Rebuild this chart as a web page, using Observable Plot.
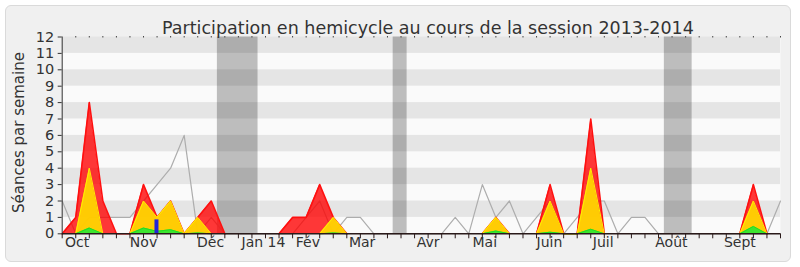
<!DOCTYPE html>
<html>
<head>
<meta charset="utf-8">
<script src="https://cdn.jsdelivr.net/npm/d3@7"></script>
<script src="https://cdn.jsdelivr.net/npm/@observablehq/plot@0.6"></script>
<style>
  body { margin: 0; background: #ffffff; }
  #wrap { position: relative; width: 800px; height: 267px; }
  #panel { position: absolute; left: 5px; top: 5px; width: 784px; height: 255px;
           border: 1px solid #dadada; border-radius: 6px; background: #f0f0f0; }
  #chart { position: absolute; left: 0; top: 0; }
</style>
</head>
<body>
<div id="wrap"><div id="panel"></div><div id="chart"></div></div>
<script>
// Weekly attendance in the chamber, session 2013-2014 (week 0 = last week of September).
const title = "Participation en hemicycle au cours de la session 2013-2014";
const yTitle = "Séances par semaine";

const weeks = d3.range(54);

// Sittings attended per week
const presence = [0, 1, 8, 2, 0, 0, 3, 1, 2, 0, 1, 2, 0, 0, 0, 0, 0, 1, 1, 3,
                  1, 0, 0, 0, 0, 0, 0, 0, 0, 0, 0, 0, 1, 0, 0, 0, 3, 0, 0, 7,
                  0, 0, 0, 0, 0, 0, 0, 0, 0, 0, 0, 3, 0, 0];
// Sittings with an intervention
const participation = [0, 0, 4, 0, 0, 0, 2, 1, 2, 0, 1, 0, 0, 0, 0, 0, 0, 0, 0, 0,
                       1, 0, 0, 0, 0, 0, 0, 0, 0, 0, 0, 0, 1, 0, 0, 0, 2, 0, 0, 4,
                       0, 0, 0, 0, 0, 0, 0, 0, 0, 0, 0, 2, 0, 0];
// Long interventions
const interventions = [0, 0, 0.35, 0, 0, 0, 0.35, 0.15, 0.25, 0, 0.05, 0, 0, 0, 0, 0, 0, 0, 0, 0,
                       0.05, 0, 0, 0, 0, 0, 0, 0, 0, 0, 0, 0, 0.17, 0, 0, 0, 0.1, 0, 0, 0.28,
                       0, 0, 0, 0, 0, 0, 0, 0, 0, 0, 0, 0.45, 0, 0];
// Median attendance of all members
const mediane = [2, 0, 1, 1, 1, 1, 2, 3, 4, 6, 0, 1, 0, 0, 0, 0, 0, 0, 1, 2,
                 0, 1, 1, 0, 0, 0, 0, 0, 0, 1, 0, 3, 1, 2, 0, 1, 2, 0, 1, 2,
                 2, 0, 1, 1, 0, 0, 0, 0, 0, 0, 0, 0, 0, 2];
// Oral questions
const questionWeeks = [7];
const questionValues = [0.85];

// Parliamentary recesses (in weeks)
const recessStart = [11.45, 24.42, 44.43];
const recessEnd = [14.45, 25.45, 46.48];

const monthLabels = ["Oct", "Nov", "Déc", "Jan 14", "Fév", "Mar", "Avr", "Mai", "Juin", "Juil", "Août", "Sept"];
const monthPos = [1.1, 6, 10.95, 14.85, 18.13, 22.13, 27, 31.18, 35.95, 39.92, 44.95, 50];

const yTicks = d3.range(0, 13);
const stripeStarts = d3.range(1, 12, 2);

const font = "DejaVu Sans";
const ink = "#333333";

// Outline of a series, left open where the series rests on the baseline
const outline = (values) => (i) =>
  (values[i] || values[i - 1] || values[i + 1]) ? values[i] : NaN;

const series = [
  { values: presence, fill: "#ff0000", opacity: 0.78, stroke: "#ff1010", width: 1.6 },
  { values: participation, fill: "#ffd700", opacity: 0.93, stroke: "#ffee00", width: 1 },
  { values: interventions, fill: "#33e633", opacity: 0.95, stroke: "#22dd22", width: 1 }
];

const seriesMarks = series.flatMap(s => [
  Plot.areaY(weeks, { x: i => i, y: i => s.values[i], fill: s.fill, fillOpacity: s.opacity }),
  Plot.line(weeks, { x: i => i, y: outline(s.values), stroke: s.stroke, strokeWidth: s.width })
]);

const chart = Plot.plot({
  width: 800,
  height: 267,
  marginLeft: 61.7,
  marginRight: 20,
  marginTop: 36.5,
  marginBottom: 33.7,
  style: { background: "transparent", fontFamily: font, color: ink, overflow: "visible" },
  x: { domain: [0, 53], axis: null },
  y: { domain: [0, 12], axis: null },
  marks: [
    Plot.frame({ fill: "#fafafa" }),
    Plot.rect(stripeStarts, { y1: d => d, y2: d => d + 1, fill: "#e5e5e5" }),
    Plot.rect(d3.range(recessStart.length), {
      x1: i => recessStart[i], x2: i => recessEnd[i], fill: "#000", fillOpacity: 0.245
    }),
    Plot.line(weeks, { x: i => i, y: i => mediane[i], stroke: "#adadad", strokeWidth: 1.2 }),
    ...seriesMarks,
    Plot.ruleX(d3.range(questionWeeks.length), {
      x: i => questionWeeks[i], y1: 0, y2: i => questionValues[i],
      stroke: "#2424d8", strokeWidth: 4, dx: -0.6
    }),
    Plot.ruleY([0], { stroke: "#2a1a1a", strokeWidth: 1.4 }),
    Plot.ruleX([0], { stroke: "#333" }),
    Plot.axisX({ ticks: weeks, tickSize: 5, tickFormat: () => "", label: null, stroke: "#2a1a1a" }),
    Plot.axisX({ anchor: "top", ticks: weeks.slice(1), tickSize: 1.5, tickFormat: () => "", label: null, stroke: "#444" }),
    Plot.axisY({ ticks: yTicks, tickSize: 4, tickPadding: 4, fontSize: 14.5, label: null, stroke: "#333" }),
    Plot.text(monthLabels, { x: (d, i) => monthPos[i], frameAnchor: "bottom", dy: 12.9,
                             fontSize: 14, fill: ink }),
    Plot.text([title], { frameAnchor: "top", dx: 6.6, dy: -15.4, fontSize: 17.5, fill: ink }),
    Plot.text([yTitle], { frameAnchor: "left", textAnchor: "middle", rotate: -90, dx: -43.5, dy: -2.9,
                          fontSize: 15, fill: ink })
  ]
});

document.getElementById("chart").append(chart);
</script>
</body>
</html>
